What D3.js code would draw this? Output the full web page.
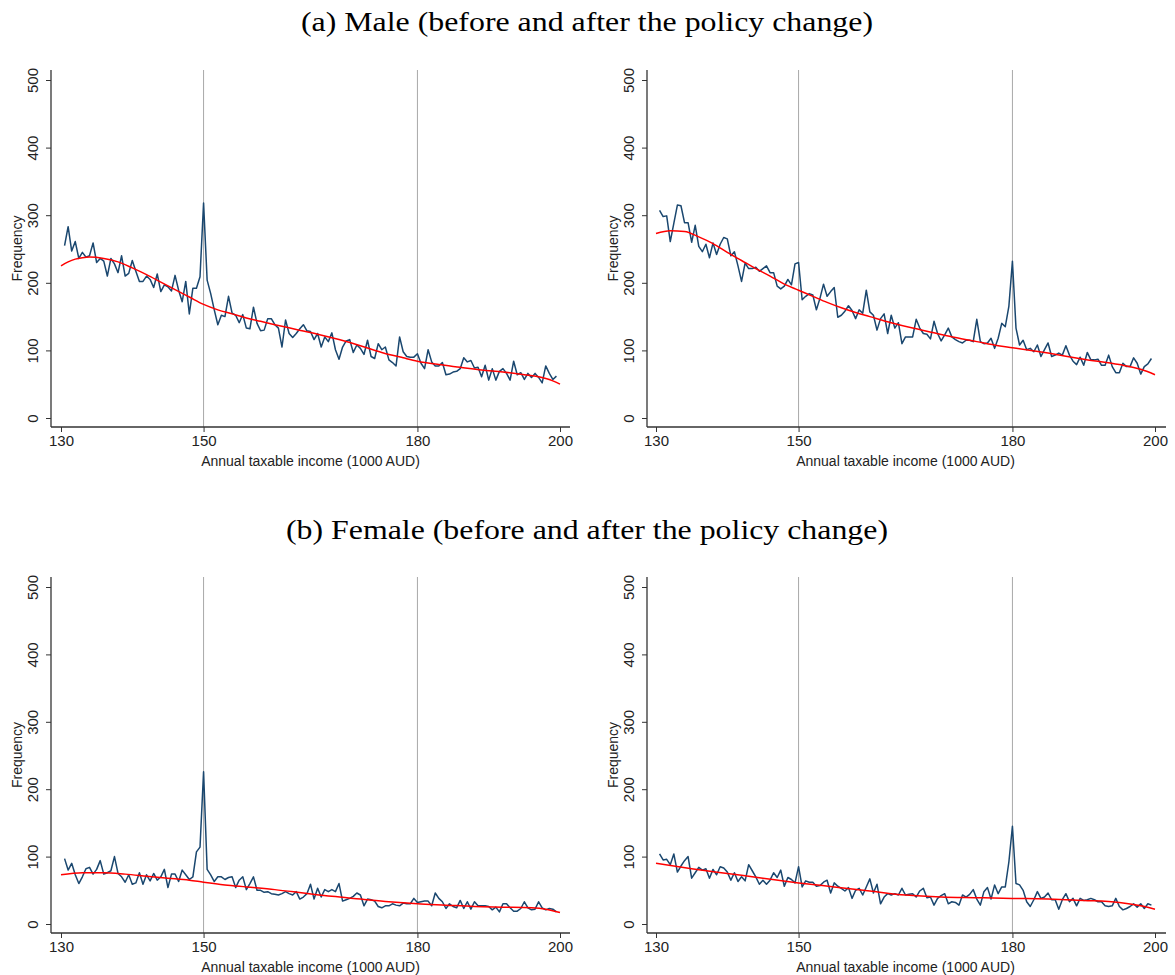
<!DOCTYPE html>
<html>
<head>
<meta charset="utf-8">
<script src="https://cdn.jsdelivr.net/npm/d3@7"></script>
<style>
  body { margin: 0; background: #fff; }
  svg { display: block; }
</style>
</head>
<body>
<svg id="chart" width="1175" height="975"></svg>
<script>
// ======= BUNCHING HISTOGRAMS, 4 PANELS ===========

const titles = ['(a) Male (before and after the policy change)', '(b) Female (before and after the policy change)']
const xTicks = [130, 150, 180, 200]
const yTicks = [0, 100, 200, 300, 400, 500]
const thresholds = [150, 180]
const xTitle = 'Annual taxable income (1000 AUD)'
const yTitle = 'Frequency'

// bins of 500 AUD, mid points 130.5 ... 199.5
const bins = d3.range(130.5, 200, 0.5)

const maleBefore = [
  255, 283, 247, 261, 236, 245, 238, 240, 259, 230, 236, 232, 210, 236, 228, 215, 240, 210, 214, 233,
  217, 202, 202, 210, 205, 193, 213, 187, 197, 194, 188, 211, 189, 172, 202, 154, 192, 192, 209, 318,
  204, 184, 160, 138, 152, 150, 180,
  155, 152, 141, 153, 133, 132, 164, 140, 129, 130, 147, 147, 138, 133, 105, 145, 125, 119, 125, 132,
  138, 129, 128, 116, 125, 105, 120, 113, 126, 101, 87, 105, 114, 116, 97, 108, 103, 94, 115, 91,
  88, 110, 101, 105, 86,
  82, 77, 120, 98, 91, 90, 90, 95, 81, 73, 101, 83, 77, 77, 82, 64, 65, 68, 69, 73,
  89, 83, 85, 74, 75, 61, 78, 56, 73, 56, 69, 73, 66, 56, 84, 64, 67, 57, 66, 60,
  66, 60, 52, 77, 66, 57, 62
]
const maleAfter = [
  307, 298, 299, 261, 288, 315, 314, 289, 289, 260, 285, 254, 246, 257, 237, 259, 242, 257, 267, 265,
  240, 246, 225, 202, 229, 221, 221, 223, 217, 221, 225, 215, 215, 195, 191, 195, 205, 197, 228, 230,
  175, 180, 184, 182, 160, 177, 198, 180, 187, 193, 149, 152, 158, 166, 159, 147, 160, 155, 189, 157,
  152, 130, 147, 154, 125, 152, 133, 141, 110, 120, 120, 120, 146, 133, 125, 124, 117, 143, 125, 114,
  123, 133, 120, 116, 113, 111, 115, 115, 113, 146, 113, 110, 111, 118, 103, 118,
  140, 135, 165, 232,
  133, 108, 115, 101, 103, 98, 108, 91, 101, 111, 91, 93, 96, 93, 107, 93, 84, 79, 90, 78,
  97, 86, 86, 87, 78, 78, 93, 76, 67, 67, 81, 76, 76, 89, 81, 65, 76, 80, 88
]
const femaleBefore = [
  97, 80, 90, 73, 60, 70, 82, 84, 74, 81, 94, 74, 76, 79, 100, 75, 70, 62, 73, 59,
  61, 76, 59, 73, 64, 75, 65, 70, 81, 54, 74, 74, 63, 80, 73, 66, 70, 107, 114, 226,
  81, 73, 63, 70, 70, 66, 69, 70, 54, 65, 70, 51, 60, 70, 50, 50, 47, 48, 45, 44,
  43, 45, 48, 45, 43, 48, 37, 40, 45, 59, 37, 53, 40, 51, 48, 51, 48, 60, 34, 36,
  38, 41, 46, 43, 27, 37, 36, 34, 26, 24, 27, 27, 30, 28, 27,
  31, 30, 30, 38, 32, 33, 34, 34, 27, 46, 38, 33, 23, 30, 26, 24, 35, 23, 33, 22,
  33, 27, 27, 27, 26, 21, 25, 18, 30, 30, 24, 19, 19, 23, 33, 24, 21, 22, 33, 24,
  21, 23, 22, 18
]
const femaleAfter = [
  104, 95, 96, 88, 104, 77, 86, 94, 100, 68, 76, 84, 80, 82, 68, 81, 73, 85, 83, 77,
  65, 76, 63, 70, 64, 88, 79, 70, 59, 65, 59, 65, 76, 69, 80, 56, 69, 66, 61, 85,
  55, 64, 62, 62, 56, 57, 62, 65, 46, 61, 56, 53, 49, 54, 38, 50, 53, 43, 55, 67,
  46, 59, 30, 40, 45, 43, 45, 43, 53, 43, 44, 45, 40, 49, 53, 39, 40, 28, 38, 42,
  45, 30, 33, 32, 28, 43, 40, 44, 51, 37, 28, 48, 54, 37, 58, 45,
  55, 55, 92, 145,
  60, 58, 50, 33, 26, 36, 48, 38, 40, 46, 36, 36, 22, 36, 45, 33, 38, 27, 38, 35,
  36, 38, 36, 33, 33, 27, 26, 27, 38, 26, 21, 23, 26, 30, 25, 30, 23, 30, 28
]

// fitted counterfactual (red), read at knots
const maleBeforeFitX = [130, 131, 132, 133, 134, 136, 138, 140, 142, 144, 146, 148, 150, 152, 154, 156, 158, 160, 163, 166, 169, 172, 175, 178, 180, 183, 186, 189, 192, 195, 197, 199, 200]
const maleBeforeFitY = [225, 231, 235, 237, 238, 236, 231, 222, 212, 201, 190, 179, 168, 160, 154, 148, 143, 138, 131, 124, 116, 107, 97, 89, 84, 79, 75, 71, 68, 64, 61, 55, 50]
const maleAfterFitX = [130, 132, 134, 136, 138, 140, 142, 144, 146, 148, 150, 152, 154, 156, 158, 160, 163, 166, 169, 172, 175, 178, 180, 185, 190, 195, 198, 200]
const maleAfterFitY = [273, 277, 276, 268, 258, 245, 233, 221, 210, 198, 189, 180, 171, 163, 156, 150, 141, 133, 126, 119, 113, 107, 104, 96, 87, 79, 72, 64]
const femaleBeforeFitX = [130, 133, 136, 139, 142, 145, 148, 150, 153, 156, 160, 164, 168, 172, 176, 180, 184, 188, 192, 196, 198, 200]
const femaleBeforeFitY = [73, 76, 76, 74, 71, 68, 65, 62, 58, 55, 51, 46, 41, 37, 33, 30, 28, 26, 25, 24, 22, 17]
const femaleAfterFitX = [130, 135, 140, 145, 150, 155, 160, 165, 170, 175, 180, 185, 190, 195, 198, 200]
const femaleAfterFitY = [90, 82, 75, 68, 61, 55, 49, 43, 40, 39, 38, 37, 35, 32, 27, 22]

const panels = [
  { left: 51, right: 570, top: 70, bottom: 427, x0: 61, x1: 560, y0: 418, y1: 80, values: maleBefore, fitX: maleBeforeFitX, fitY: maleBeforeFitY },
  { left: 647, right: 1166, top: 70, bottom: 427, x0: 656, x1: 1155, y0: 418, y1: 80, values: maleAfter, fitX: maleAfterFitX, fitY: maleAfterFitY },
  { left: 51, right: 570, top: 577, bottom: 933, x0: 61, x1: 560, y0: 924, y1: 587, values: femaleBefore, fitX: femaleBeforeFitX, fitY: femaleBeforeFitY },
  { left: 647, right: 1166, top: 577, bottom: 933, x0: 656, x1: 1155, y0: 924, y1: 587, values: femaleAfter, fitX: femaleAfterFitX, fitY: femaleAfterFitY }
]

const svg = d3.select('#chart')
const sans = 'Liberation Sans, Arial, sans-serif'
const serif = 'Liberation Serif, Times New Roman, serif'

// panel group titles, stretched to the width of the original serif face
svg.append('text')
  .attr('x', 587).attr('y', 31)
  .attr('text-anchor', 'middle')
  .attr('textLength', 572)
  .attr('lengthAdjust', 'spacingAndGlyphs')
  .style('font-family', serif)
  .style('font-size', '28px')
  .text(titles[0])
svg.append('text')
  .attr('x', 587).attr('y', 539)
  .attr('text-anchor', 'middle')
  .attr('textLength', 602)
  .attr('lengthAdjust', 'spacingAndGlyphs')
  .style('font-family', serif)
  .style('font-size', '28px')
  .text(titles[1])

panels.forEach(p => {
  const g = svg.append('g')
  const xScale = d3.scaleLinear().domain([130, 200]).range([p.x0, p.x1])
  const yScale = d3.scaleLinear().domain([0, 500]).range([p.y0, p.y1])

  // reference lines at the thresholds
  g.selectAll('line.ref')
    .data(thresholds)
    .enter()
    .append('line')
      .attr('x1', d => xScale(d)).attr('x2', d => xScale(d))
      .attr('y1', p.top).attr('y2', p.bottom)
      .attr('stroke', '#a8a8a8')
      .attr('stroke-width', 1)

  // y axis
  const yAxis = d3.axisLeft(yScale).tickValues(yTicks).tickSize(5).tickSizeOuter(0).tickPadding(4)
  const ya = g.append('g')
    .attr('transform', `translate(${p.left}, 0)`)
    .call(yAxis)
  ya.select('.domain').remove()
  ya.selectAll('line').attr('stroke', '#333')
  ya.selectAll('text')
    .attr('transform', 'rotate(-90)')
    .attr('x', 0).attr('dy', 0)
    .attr('y', -13)
    .style('text-anchor', 'middle')
    .style('font-family', sans)
    .style('font-size', '15px')
    .attr('fill', '#222')

  // x axis
  const xAxis = d3.axisBottom(xScale).tickValues(xTicks).tickSize(5).tickSizeOuter(0).tickPadding(3)
  const xa = g.append('g')
    .attr('transform', `translate(0, ${p.bottom})`)
    .call(xAxis)
  xa.select('.domain').remove()
  xa.selectAll('line').attr('stroke', '#333')
  xa.selectAll('text')
    .style('font-family', sans)
    .style('font-size', '15px')
    .attr('fill', '#222')

  // axis lines
  g.append('line')
    .attr('x1', p.left).attr('x2', p.left)
    .attr('y1', p.top).attr('y2', p.bottom)
    .attr('stroke', '#333').attr('stroke-width', 1.3)
  g.append('line')
    .attr('x1', p.left).attr('x2', p.right)
    .attr('y1', p.bottom).attr('y2', p.bottom)
    .attr('stroke', '#333').attr('stroke-width', 1.3)

  // axis titles
  g.append('text')
    .attr('transform', `translate(${p.left - 29}, ${(p.top + p.bottom) / 2}) rotate(-90)`)
    .attr('text-anchor', 'middle')
    .style('font-family', sans)
    .style('font-size', '14px')
    .attr('fill', '#222')
    .text(yTitle)
  g.append('text')
    .attr('x', (p.x0 + p.x1) / 2)
    .attr('y', p.bottom + 39)
    .attr('text-anchor', 'middle')
    .style('font-family', sans)
    .style('font-size', '14px')
    .attr('fill', '#222')
    .text(xTitle)

  // observed frequency
  const line = d3.line()
    .x((d, i) => xScale(bins[i]))
    .y(d => yScale(d))
  g.append('path')
    .datum(p.values)
    .attr('d', line)
    .attr('fill', 'none')
    .attr('stroke', '#1a476f')
    .attr('stroke-width', 1.5)
    .attr('stroke-linejoin', 'round')

  // fitted
  const fitLine = d3.line()
    .curve(d3.curveMonotoneX)
    .x((d, i) => xScale(p.fitX[i]))
    .y(d => yScale(d))
  g.append('path')
    .datum(p.fitY)
    .attr('d', fitLine)
    .attr('fill', 'none')
    .attr('stroke', '#ff0000')
    .attr('stroke-width', 1.5)
})
</script>
</body>
</html>
